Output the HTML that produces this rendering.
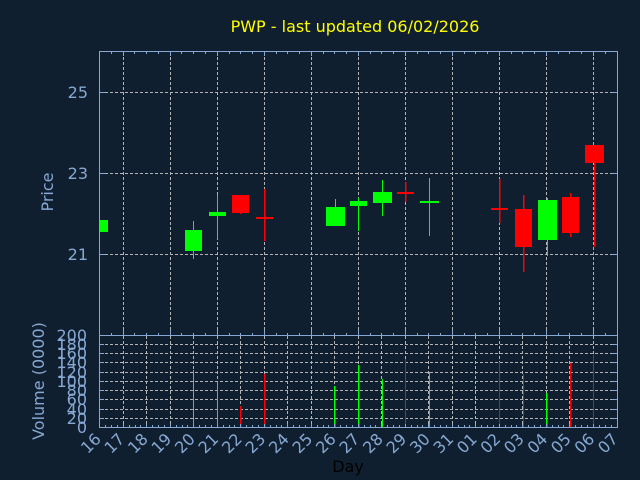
<!DOCTYPE html>
<html><head><meta charset="utf-8"><style>
html,body{margin:0;padding:0;background:#101f30;}
svg{display:block;}
text{font-family:"DejaVu Sans","Liberation Sans",sans-serif;}
</style></head><body>
<svg width="640" height="480" viewBox="0 0 640 480" xmlns="http://www.w3.org/2000/svg">
<rect width="640" height="480" fill="#101f30"/>
<text x="355" y="32" fill="#ffff00" font-size="16" text-anchor="middle">PWP - last updated 06/02/2026</text>

<!-- grid main -->
<g stroke="#b4b4b4" stroke-width="1" stroke-dasharray="3,2" shape-rendering="crispEdges" fill="none">
<path d="M100 92.5H617M100 173.5H617M100 254.5H617"/>
<path d="M123.5 52V335M170.5 52V335M217.5 52V335M264.5 52V335M311.5 52V335M358.5 52V335M405.5 52V335M452.5 52V335M499.5 52V335M546.5 52V335M593.5 52V335"/>
<!-- volume grid -->
<path d="M100 418.5H617M100 409.5H617M100 399.5H617M100 390.5H617M100 381.5H617M100 372.5H617M100 362.5H617M100 353.5H617M100 344.5H617"/>
<path d="M123.5 336V427M146.5 336V427M170.5 336V427M193.5 336V427M217.5 336V427M240.5 336V427M264.5 336V427M287.5 336V427M311.5 336V427M334.5 336V427M358.5 336V427M381.5 336V427M405.5 336V427M428.5 336V427M452.5 336V427M475.5 336V427M499.5 336V427M522.5 336V427M546.5 336V427M569.5 336V427M593.5 336V427"/>
</g>

<!-- axes -->
<g stroke="#86a8d2" stroke-width="1" fill="none" shape-rendering="crispEdges">
<rect x="99.5" y="51.5" width="518" height="284"/>
<rect x="99.5" y="335.5" width="518" height="92"/>
<!-- price y ticks -->
<path d="M100 92.5h5M100 173.5h5M100 254.5h5M617 92.5h-5M617 173.5h-5M617 254.5h-5"/>
<!-- volume y ticks -->
<path d="M100 418.5h4M100 409.5h4M100 399.5h4M100 390.5h4M100 381.5h4M100 372.5h4M100 362.5h4M100 353.5h4M100 344.5h4
M617 418.5h-5M617 409.5h-5M617 399.5h-5M617 390.5h-5M617 381.5h-5M617 372.5h-5M617 362.5h-5M617 353.5h-5M617 344.5h-5"/>
<!-- main top ticks (major) -->
<path d="M123.5 52v4M170.5 52v4M217.5 52v4M264.5 52v4M311.5 52v4M358.5 52v4M405.5 52v4M452.5 52v4M499.5 52v4M546.5 52v4M593.5 52v4"/>
<!-- main bottom ticks (major) -->
<path d="M123.5 335v-5M170.5 335v-5M217.5 335v-5M264.5 335v-5M311.5 335v-5M358.5 335v-5M405.5 335v-5M452.5 335v-5M499.5 335v-5M546.5 335v-5M593.5 335v-5"/>
<!-- minor ticks main top/bottom -->
<path d="M111.5 52v2M134.5 52v2M146.5 52v2M158.5 52v2M181.5 52v2M193.5 52v2M205.5 52v2M229.5 52v2M240.5 52v2M252.5 52v2M276.5 52v2M287.5 52v2M299.5 52v2M323.5 52v2M334.5 52v2M346.5 52v2M370.5 52v2M381.5 52v2M393.5 52v2M417.5 52v2M428.5 52v2M440.5 52v2M464.5 52v2M475.5 52v2M487.5 52v2M511.5 52v2M522.5 52v2M534.5 52v2M558.5 52v2M569.5 52v2M581.5 52v2M605.5 52v2
M111.5 335v-2M134.5 335v-2M146.5 335v-2M158.5 335v-2M181.5 335v-2M193.5 335v-2M205.5 335v-2M229.5 335v-2M240.5 335v-2M252.5 335v-2M276.5 335v-2M287.5 335v-2M299.5 335v-2M323.5 335v-2M334.5 335v-2M346.5 335v-2M370.5 335v-2M381.5 335v-2M393.5 335v-2M417.5 335v-2M428.5 335v-2M440.5 335v-2M464.5 335v-2M475.5 335v-2M487.5 335v-2M511.5 335v-2M522.5 335v-2M534.5 335v-2M558.5 335v-2M569.5 335v-2M581.5 335v-2M605.5 335v-2"/>
</g>
<!-- volume bottom quarter-day ticks -->
<g stroke="#86a8d2" stroke-width="1" shape-rendering="crispEdges" id="vt"></g>

<!-- candles -->
<g shape-rendering="crispEdges">
<!-- Jan16 -->
<rect x="100" y="220" width="8" height="12" fill="#00ff00"/>
<!-- Jan20 -->
<rect x="193" y="221" width="1" height="38" fill="#00ff00"/>
<rect x="185" y="230" width="17" height="21" fill="#00ff00"/>
<!-- Jan21 -->
<rect x="217" y="195" width="1" height="44" fill="#00ff00"/>
<rect x="209" y="212" width="17" height="4" fill="#00ff00"/>
<!-- Jan22 -->
<rect x="240" y="195" width="1.5" height="19" fill="#ff0000"/>
<rect x="232" y="195" width="17" height="18" fill="#ff0000"/>
<!-- Jan23 -->
<rect x="264" y="189" width="1.5" height="52" fill="#ff0000"/>
<rect x="256" y="217" width="17" height="2" fill="#ff0000"/>
<!-- Jan26 -->
<rect x="335" y="199" width="1" height="27" fill="#00ff00"/>
<rect x="326" y="207" width="19" height="19" fill="#00ff00"/>
<!-- Jan27 -->
<rect x="358" y="198" width="1" height="33" fill="#00ff00"/>
<rect x="350" y="201" width="17" height="5" fill="#00ff00"/>
<!-- Jan28 -->
<rect x="382" y="180" width="1" height="36" fill="#00ff00"/>
<rect x="373" y="192" width="19" height="11" fill="#00ff00"/>
<!-- Jan29 -->
<rect x="405" y="182" width="1.5" height="20" fill="#ff0000"/>
<rect x="397" y="192" width="17" height="2" fill="#ff0000"/>
<!-- Jan30 -->
<rect x="429" y="178" width="1" height="58" fill="#00ff00"/>
<rect x="420" y="201" width="19" height="2" fill="#00ff00"/>
<!-- Feb2 -->
<rect x="499" y="179" width="1.5" height="44" fill="#ff0000"/>
<rect x="491" y="208" width="17" height="2" fill="#ff0000"/>
<!-- Feb3 -->
<rect x="523" y="195" width="1.5" height="77" fill="#ff0000"/>
<rect x="515" y="209" width="17" height="38" fill="#ff0000"/>
<!-- Feb4 -->
<rect x="547" y="198" width="1" height="58" fill="#00ff00"/>
<rect x="538" y="200" width="19" height="40" fill="#00ff00"/>
<!-- Feb5 -->
<rect x="570" y="193" width="1.5" height="44" fill="#ff0000"/>
<rect x="562" y="197" width="17" height="36" fill="#ff0000"/>
<!-- Feb6 -->
<rect x="594" y="145" width="1.5" height="102" fill="#ff0000"/>
<rect x="585" y="145" width="19" height="18" fill="#ff0000"/>
</g>

<!-- volume bars -->
<g shape-rendering="crispEdges">
<rect x="193" y="370" width="1" height="57" fill="#00ff00"/>
<rect x="217" y="382" width="1" height="45" fill="#00ff00"/>
<rect x="240" y="406" width="1.5" height="21" fill="#ff0000"/>
<rect x="264" y="374" width="1.5" height="53" fill="#ff0000"/>
<rect x="334" y="386" width="1.5" height="41" fill="#00ff00"/>
<rect x="358" y="365" width="1.5" height="62" fill="#00ff00"/>
<rect x="382" y="379" width="1" height="48" fill="#00ff00"/>
<rect x="405" y="359" width="1" height="68" fill="#ff0000"/>
<rect x="429" y="372" width="1" height="55" fill="#00ff00"/>
<rect x="499" y="362" width="1" height="65" fill="#ff0000"/>
<rect x="523" y="374" width="1" height="53" fill="#ff0000"/>
<rect x="546" y="393" width="1.5" height="34" fill="#00ff00"/>
<rect x="570" y="363" width="1.5" height="64" fill="#ff0000"/>
<rect x="593" y="355" width="1" height="72" fill="#ff0000"/>
</g>

<!-- y labels price -->
<g fill="#86a8d2" font-size="16" text-anchor="end">
<text x="88" y="98">25</text>
<text x="88" y="179">23</text>
<text x="88" y="260">21</text>
</g>
<!-- volume labels -->
<g fill="#86a8d2" font-size="16" text-anchor="end">
<text x="87" y="341">200</text>
<text x="87" y="350">180</text>
<text x="87" y="359">160</text>
<text x="87" y="368">140</text>
<text x="87" y="378">120</text>
<text x="87" y="387">100</text>
<text x="87" y="396">80</text>
<text x="87" y="405">60</text>
<text x="87" y="415">40</text>
<text x="87" y="424">20</text>
<text x="87" y="433">0</text>
</g>
<!-- axis titles -->
<text transform="translate(53,192) rotate(-90)" fill="#86a8d2" font-size="16" text-anchor="middle">Price</text>
<text transform="translate(44,381) rotate(-90)" fill="#86a8d2" font-size="16" text-anchor="middle">Volume (0000)</text>
<text x="348" y="472" fill="#000000" font-size="16" text-anchor="middle">Day</text>

<!-- x labels -->
<g fill="#86a8d2" font-size="16" text-anchor="end">
<text transform="translate(102,440) rotate(-45)">16</text>
<text transform="translate(125.5,440) rotate(-45)">17</text>
<text transform="translate(149,440) rotate(-45)">18</text>
<text transform="translate(172.5,440) rotate(-45)">19</text>
<text transform="translate(196,440) rotate(-45)">20</text>
<text transform="translate(219.5,440) rotate(-45)">21</text>
<text transform="translate(243,440) rotate(-45)">22</text>
<text transform="translate(266.5,440) rotate(-45)">23</text>
<text transform="translate(290,440) rotate(-45)">24</text>
<text transform="translate(313.5,440) rotate(-45)">25</text>
<text transform="translate(337,440) rotate(-45)">26</text>
<text transform="translate(360.5,440) rotate(-45)">27</text>
<text transform="translate(384,440) rotate(-45)">28</text>
<text transform="translate(407.5,440) rotate(-45)">29</text>
<text transform="translate(431,440) rotate(-45)">30</text>
<text transform="translate(454.5,440) rotate(-45)">31</text>
<text transform="translate(478,440) rotate(-45)">01</text>
<text transform="translate(501.5,440) rotate(-45)">02</text>
<text transform="translate(525,440) rotate(-45)">03</text>
<text transform="translate(548.5,440) rotate(-45)">04</text>
<text transform="translate(572,440) rotate(-45)">05</text>
<text transform="translate(595.5,440) rotate(-45)">06</text>
<text transform="translate(619,440) rotate(-45)">07</text>
</g>

<!-- volume bottom ticks -->
<g stroke="#86a8d2" stroke-width="1" shape-rendering="crispEdges">
<path d="M105.5 427v-2M111.5 427v-2M117.5 427v-2M123.5 427v-3M129.5 427v-2M135.5 427v-2M140.5 427v-2M146.5 427v-3M152.5 427v-2M158.5 427v-2M164.5 427v-2M170.5 427v-3M176.5 427v-2M182.5 427v-2M187.5 427v-2M193.5 427v-3M199.5 427v-2M205.5 427v-2M211.5 427v-2M217.5 427v-3M223.5 427v-2M229.5 427v-2M234.5 427v-2M240.5 427v-3M246.5 427v-2M252.5 427v-2M258.5 427v-2M264.5 427v-3M270.5 427v-2M276.5 427v-2M281.5 427v-2M287.5 427v-3M293.5 427v-2M299.5 427v-2M305.5 427v-2M311.5 427v-3M317.5 427v-2M323.5 427v-2M328.5 427v-2M334.5 427v-3M340.5 427v-2M346.5 427v-2M352.5 427v-2M358.5 427v-3M364.5 427v-2M370.5 427v-2M375.5 427v-2M381.5 427v-3M387.5 427v-2M393.5 427v-2M399.5 427v-2M405.5 427v-3M411.5 427v-2M417.5 427v-2M422.5 427v-2M428.5 427v-3M434.5 427v-2M440.5 427v-2M446.5 427v-2M452.5 427v-3M458.5 427v-2M464.5 427v-2M469.5 427v-2M475.5 427v-3M481.5 427v-2M487.5 427v-2M493.5 427v-2M499.5 427v-3M505.5 427v-2M511.5 427v-2M516.5 427v-2M522.5 427v-3M528.5 427v-2M534.5 427v-2M540.5 427v-2M546.5 427v-3M552.5 427v-2M558.5 427v-2M563.5 427v-2M569.5 427v-3M575.5 427v-2M581.5 427v-2M587.5 427v-2M593.5 427v-3M599.5 427v-2M605.5 427v-2M611.5 427v-2"/>
</g>
</svg>
</body></html>
